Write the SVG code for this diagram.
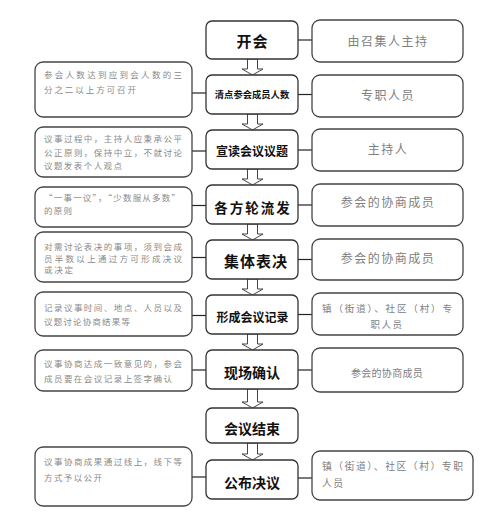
<svg xmlns="http://www.w3.org/2000/svg" width="496" height="519" viewBox="0 0 496 519">
<style>
.bg{fill:#fff}
.cb{fill:#fff;stroke:#333;stroke-width:1.3}
.sb{fill:#fff;stroke:#444;stroke-width:1.3}
.ct{font-family:"Noto Sans CJK SC","Noto Sans",sans-serif;font-weight:bold;fill:#111;text-anchor:middle}
.rt{font-family:"Noto Sans CJK SC","Noto Sans",sans-serif;fill:#808080;text-anchor:middle}
.lt{font-family:"Noto Sans CJK SC","Noto Sans",sans-serif;fill:#8a8a8a;font-size:8.5px}
.ln{stroke:#222;stroke-width:1.2;fill:none}
.ar{fill:#fff;stroke:#444;stroke-width:1}
</style>
<rect class="bg" x="0" y="0" width="496" height="519"/>
<g id="connectors">
<line class="ln" x1="298" y1="40" x2="312" y2="40"/>
<line class="ln" x1="192" y1="93" x2="206" y2="93"/>
<line class="ln" x1="298" y1="94.5" x2="312" y2="94.5"/>
<line class="ln" x1="192" y1="151" x2="206" y2="151"/>
<line class="ln" x1="298" y1="150" x2="312" y2="150"/>
<line class="ln" x1="192" y1="205.5" x2="206" y2="205.5"/>
<line class="ln" x1="298" y1="205" x2="312" y2="205"/>
<line class="ln" x1="192" y1="257.5" x2="206" y2="257.5"/>
<line class="ln" x1="298" y1="259.5" x2="312" y2="259.5"/>
<line class="ln" x1="192" y1="315.5" x2="206" y2="315.5"/>
<line class="ln" x1="298" y1="314.5" x2="312" y2="314.5"/>
<line class="ln" x1="192" y1="370" x2="206" y2="370"/>
<line class="ln" x1="298" y1="370" x2="312" y2="370"/>
<line class="ln" x1="192" y1="477" x2="206" y2="477"/>
<line class="ln" x1="298" y1="478" x2="312" y2="478"/>
<polygon class="ar" points="247.5,59 257.5,59 257.5,69 263,69 252.5,75 242,69 247.5,69"/>
<polygon class="ar" points="247.5,114 257.5,114 257.5,124 263,124 252.5,130 242,124 247.5,124"/>
<polygon class="ar" points="247.5,169 257.5,169 257.5,179 263,179 252.5,185 242,179 247.5,179"/>
<polygon class="ar" points="247.5,224 257.5,224 257.5,234 263,234 252.5,240 242,234 247.5,234"/>
<polygon class="ar" points="247.5,279 257.5,279 257.5,289 263,289 252.5,295 242,289 247.5,289"/>
<polygon class="ar" points="247.5,334 257.5,334 257.5,344 263,344 252.5,350 242,344 247.5,344"/>
<polygon class="ar" points="247.5,389 257.5,389 257.5,402 263,402 252.5,408 242,402 247.5,402"/>
<polygon class="ar" points="247.5,443 257.5,443 257.5,454 263,454 252.5,460 242,454 247.5,454"/>
</g>
<g id="n1"><rect class="cb" x="206" y="21" width="92" height="38" rx="6"/><text class="ct" x="252.5" y="47" font-size="15" letter-spacing="1">开会</text></g>
<g id="n2"><rect class="cb" x="206" y="75" width="92" height="39" rx="6"/><text class="ct" x="252" y="98" font-size="9.3">清点参会成员人数</text></g>
<g id="n3"><rect class="cb" x="206" y="130" width="92" height="39" rx="6"/><text class="ct" x="252" y="156" font-size="12">宣读会议议题</text></g>
<g id="n4"><rect class="cb" x="206" y="185" width="92" height="39" rx="6"/><text class="ct" x="253" y="213" font-size="13.5" letter-spacing="2">各方轮流发</text></g>
<g id="n5"><rect class="cb" x="206" y="240" width="92" height="39" rx="6"/><text class="ct" x="256" y="267" font-size="15" letter-spacing="1">集体表决</text></g>
<g id="n6"><rect class="cb" x="206" y="295" width="92" height="39" rx="6"/><text class="ct" x="252.5" y="322" font-size="12">形成会议记录</text></g>
<g id="n7"><rect class="cb" x="206" y="350" width="92" height="39" rx="6"/><text class="ct" x="252" y="378" font-size="14">现场确认</text></g>
<g id="n8"><rect class="cb" x="206" y="408" width="92" height="35" rx="6"/><text class="ct" x="252" y="434" font-size="14">会议结束</text></g>
<g id="n9"><rect class="cb" x="206" y="460" width="92" height="39" rx="6"/><text class="ct" x="252" y="488" font-size="14">公布决议</text></g>
<g id="r1"><rect class="sb" x="312" y="20" width="151" height="42" rx="8"/><text class="rt" x="388" y="46" font-size="12" letter-spacing="1.5">由召集人主持</text></g>
<g id="r2"><rect class="sb" x="312" y="75" width="151" height="42" rx="8"/><text class="rt" x="388" y="100" font-size="12" letter-spacing="1.5">专职人员</text></g>
<g id="r3"><rect class="sb" x="312" y="129" width="151" height="42" rx="8"/><text class="rt" x="388" y="154" font-size="12" letter-spacing="1.5">主持人</text></g>
<g id="r4"><rect class="sb" x="312" y="184" width="151" height="42" rx="8"/><text class="rt" x="388" y="207" font-size="12" letter-spacing="1.5">参会的协商成员</text></g>
<g id="r5"><rect class="sb" x="312" y="239" width="151" height="41" rx="8"/><text class="rt" x="388" y="263" font-size="12" letter-spacing="1.5">参会的协商成员</text></g>
<g id="r6"><rect class="sb" x="312" y="293" width="151" height="42" rx="8"/><text class="rt" x="387" y="311.5" font-size="9.5" textLength="130" lengthAdjust="spacing">镇（街道）、社区（村）专</text><text class="rt" x="387" y="327.5" font-size="9.5" letter-spacing="1.5">职人员</text></g>
<g id="r7"><rect class="sb" x="312" y="348" width="151" height="44" rx="8"/><text class="rt" x="387" y="376.5" font-size="10" letter-spacing="0.3">参会的协商成员</text></g>
<g id="r9"><rect class="sb" x="312" y="451" width="161" height="49" rx="8"/><text class="rt" x="322" y="470" font-size="9.8" style="text-anchor:start" textLength="141" lengthAdjust="spacing">镇（街道）、社区（村）专职</text><text class="rt" x="322" y="487" font-size="9.8" letter-spacing="1.5" style="text-anchor:start">人员</text></g>
<g id="l1"><rect class="sb" x="35" y="62" width="157" height="55" rx="8"/><text class="lt" x="44" y="78" textLength="138" lengthAdjust="spacing">参会人数达到应到会人数的三</text><text class="lt" x="44" y="93" textLength="92" lengthAdjust="spacing">分之二以上方可召开</text></g>
<g id="l2"><rect class="sb" x="35" y="127" width="157" height="50" rx="8"/><text class="lt" x="44" y="142" textLength="138" lengthAdjust="spacing">议事过程中，主持人应秉承公平</text><text class="lt" x="44" y="155.5" textLength="138" lengthAdjust="spacing">公正原则，保持中立，不就讨论</text><text class="lt" x="44" y="169" textLength="78" lengthAdjust="spacing">议题发表个人观点</text></g>
<g id="l3"><rect class="sb" x="35" y="187" width="157" height="40" rx="8"/><text class="lt" x="44" y="201" textLength="136" lengthAdjust="spacing">“一事一议”，“少数服从多数”</text><text class="lt" x="44" y="213.5" textLength="28" lengthAdjust="spacing">的原则</text></g>
<g id="l4"><rect class="sb" x="35" y="232" width="157" height="50" rx="8"/><text class="lt" x="44" y="250" textLength="138" lengthAdjust="spacing">对需讨论表决的事项，须到会成</text><text class="lt" x="44" y="261.5" textLength="138" lengthAdjust="spacing">员半数以上通过方可形成决议</text><text class="lt" x="44" y="273" textLength="29" lengthAdjust="spacing">或决定</text></g>
<g id="l5"><rect class="sb" x="35" y="292" width="157" height="44" rx="8"/><text class="lt" x="44" y="311" textLength="138" lengthAdjust="spacing">记录议事时间、地点、人员以及</text><text class="lt" x="44" y="325" textLength="86" lengthAdjust="spacing">议题讨论协商结果等</text></g>
<g id="l6"><rect class="sb" x="35" y="350" width="157" height="41" rx="8"/><text class="lt" x="44" y="367" textLength="138" lengthAdjust="spacing">议事协商达成一致意见的，参会</text><text class="lt" x="44" y="382" textLength="128" lengthAdjust="spacing">成员要在会议记录上签字确认</text></g>
<g id="l7"><rect class="sb" x="35" y="447" width="157" height="59" rx="8"/><text class="lt" x="44" y="465" textLength="138" lengthAdjust="spacing">议事协商成果通过线上，线下等</text><text class="lt" x="44" y="480.5" textLength="58" lengthAdjust="spacing">方式予以公开</text></g>
</svg>
